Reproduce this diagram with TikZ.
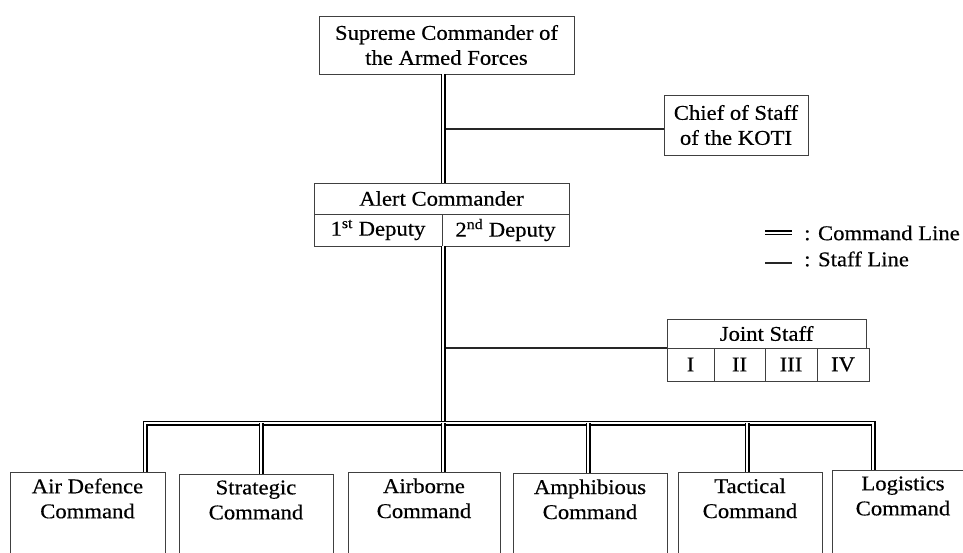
\documentclass[tikz,border=0pt]{standalone}
\usepackage{fontspec}
\setmainfont{Liberation Serif}[FakeStretch=1.08,FakeBold=0.4]
\begin{document}
\begin{tikzpicture}[x=1pt,y=-1pt,
  box/.style={draw=black!75, line width=0.9pt, align=center, inner sep=0pt,
    font=\fontsize{21}{25}\selectfont},
  cell/.style={box, minimum height=32pt},
  unit/.style={box, anchor=north, text depth=70pt, inner ysep=6pt},
  cmd/.style={double=white, double distance=2.2pt, line width=1.4pt, draw=black},
  staff/.style={draw=black!85, line width=1.7pt},
  legend/.style={anchor=west, inner sep=0pt, font=\fontsize{21}{25}\selectfont}]
\clip (0,0) rectangle (963,553);
\useasboundingbox (0,0) rectangle (963,553);
\fill[white] (0,0) rectangle (963,553);

% upper command chain
\node[box, minimum width=255pt, minimum height=58pt] (supreme) at (446.5,45)
  {Supreme Commander of\\the Armed Forces};
\node[box, minimum width=144pt, minimum height=60pt] (chief) at (736,125)
  {Chief of Staff\\of the KOTI};
\node[cell, minimum width=255pt, minimum height=31pt] (alert) at (441.5,198.5)
  {Alert Commander};
\node[cell, minimum width=128pt] (dep1) at (378,230)
  {1\textsuperscript{st} Deputy};
\node[cell, minimum width=127pt] (dep2) at (505.5,230)
  {2\textsuperscript{nd} Deputy};

% joint staff block
\node[cell, minimum width=199pt, minimum height=29pt] (joint) at (766.5,333.5) {Joint Staff};
\node[cell, minimum width=47pt, minimum height=33pt] (js1) at (690.5,364.5) {I};
\node[cell, minimum width=51pt, minimum height=33pt] (js2) at (739.5,364.5) {II};
\node[cell, minimum width=52pt, minimum height=33pt] (js3) at (791,364.5) {III};
\node[cell, minimum width=52pt, minimum height=33pt] (js4) at (843,364.5) {IV};

% subordinate commands
\node[unit, minimum width=155pt] (air)   at (87.5,472) {Air Defence\\Command};
\node[unit, minimum width=154pt] (strat) at (256,474)  {Strategic\\Command};
\node[unit, minimum width=152pt] (airb)  at (424,472)  {Airborne\\Command};
\node[unit, minimum width=154pt] (amph)  at (590,473)  {Amphibious\\Command};
\node[unit, minimum width=144pt] (tact)  at (750,472)  {Tactical\\Command};
\node[unit, minimum width=142pt] (logi)  at (903,470)  {Logistics\\Command};

% junctions on the trunk
\coordinate (kj) at (443,129);
\coordinate (jj) at (443,348);
\coordinate (bus) at (443,423);
\coordinate (busL) at (145,423);
\coordinate (busR) at (873,423);

% staff lines
\draw[staff] (kj) -- (kj -| chief.west);
\draw[staff] (jj) -- (jj -| joint.south west);

% command lines
\draw[cmd] (kj |- supreme.south) -- (kj |- alert.north);
\draw[cmd] (bus |- dep1.south) -- (bus);
\draw[cmd] (busL |- air.north) -- (busL) -- (busR) -- (busR |- logi.north);
\draw[cmd] (261,423) -- (261,0 |- strat.north);
\draw[cmd] (bus) -- (bus |- airb.north);
\draw[cmd] (588,423) -- (588,0 |- amph.north);
\draw[cmd] (747,423) -- (747,0 |- tact.north);

% legend
\node[legend] (leg1) at (804,233) {: Command Line};
\node[legend] (leg2) at (804,259) {: Staff Line};
\draw[cmd] ([xshift=-39pt]leg1.west) -- ([xshift=-12pt]leg1.west);
\draw[staff] ([xshift=-39pt,yshift=-4pt]leg2.west) -- ([xshift=-12pt,yshift=-4pt]leg2.west);
\end{tikzpicture}
\end{document}
